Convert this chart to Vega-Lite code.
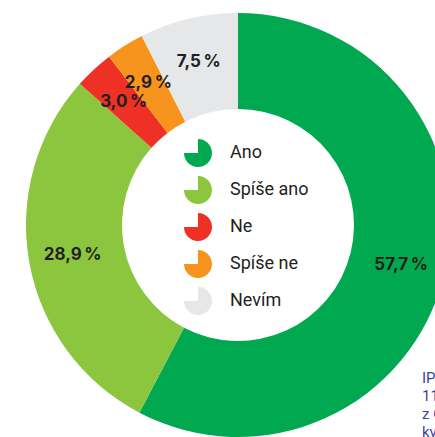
{
  "$schema": "https://vega.github.io/schema/vega-lite/v6.json",
  "width": 476,
  "height": 450,
  "autosize": {"type": "none"},
  "padding": 0,
  "background": "white",
  "config": {"view": {"stroke": null}},
  "title": {
    "text": ["IPSOS", "1100 respondentů", "z České republiky", "kvótní výběr"],
    "frame": "group",
    "orient": "top",
    "anchor": "start",
    "baseline": "top",
    "dx": 422,
    "dy": 440,
    "offset": 0,
    "font": "Roboto",
    "fontSize": 15,
    "fontWeight": "normal",
    "lineHeight": 18,
    "color": "#3d3f9f"
  },
  "data": {
    "values": [
      {"odpoved": "Ano", "podil": 57.7, "poradi": 1, "popisek": "57,7\u2009%"},
      {"odpoved": "Spíše ano", "podil": 28.9, "poradi": 2, "popisek": "28,9\u2009%"},
      {"odpoved": "Ne", "podil": 3.0, "poradi": 3, "popisek": "3,0\u2009%"},
      {"odpoved": "Spíše ne", "podil": 2.9, "poradi": 4, "popisek": "2,9\u2009%"},
      {"odpoved": "Nevím", "podil": 7.5, "poradi": 5, "popisek": "7,5\u2009%"}
    ]
  },
  "encoding": {
    "theta": {"field": "podil", "type": "quantitative", "stack": true},
    "order": {"field": "poradi", "type": "quantitative"}
  },
  "layer": [
    {
      "mark": {"type": "arc", "radius": 212, "radius2": 116},
      "encoding": {
        "color": {
          "field": "odpoved",
          "type": "nominal",
          "scale": {
            "domain": ["Ano", "Spíše ano", "Ne", "Spíše ne", "Nevím"],
            "range": ["#00a94f", "#8cc63f", "#ee3124", "#f7941d", "#e6e7e8"]
          },
          "legend": {
            "title": null,
            "orient": "none",
            "legendX": 184,
            "legendY": 139,
            "padding": 0,
            "symbolType": "M0,0L0,-1A1,1,0,1,1,-1,0Z",
            "symbolSize": 784,
            "symbolStrokeWidth": 0,
            "symbolOpacity": 1,
            "labelFont": "Roboto",
            "labelFontSize": 18,
            "labelColor": "#231f20",
            "labelOffset": 18,
            "rowPadding": 9
          }
        }
      }
    },
    {
      "mark": {
        "type": "text",
        "radius": 168,
        "font": "Inter",
        "fontWeight": "bold",
        "fontSize": 17,
        "fill": "#231f20"
      },
      "encoding": {
        "text": {"field": "popisek"},
        "detail": {"field": "odpoved"}
      }
    }
  ]
}
